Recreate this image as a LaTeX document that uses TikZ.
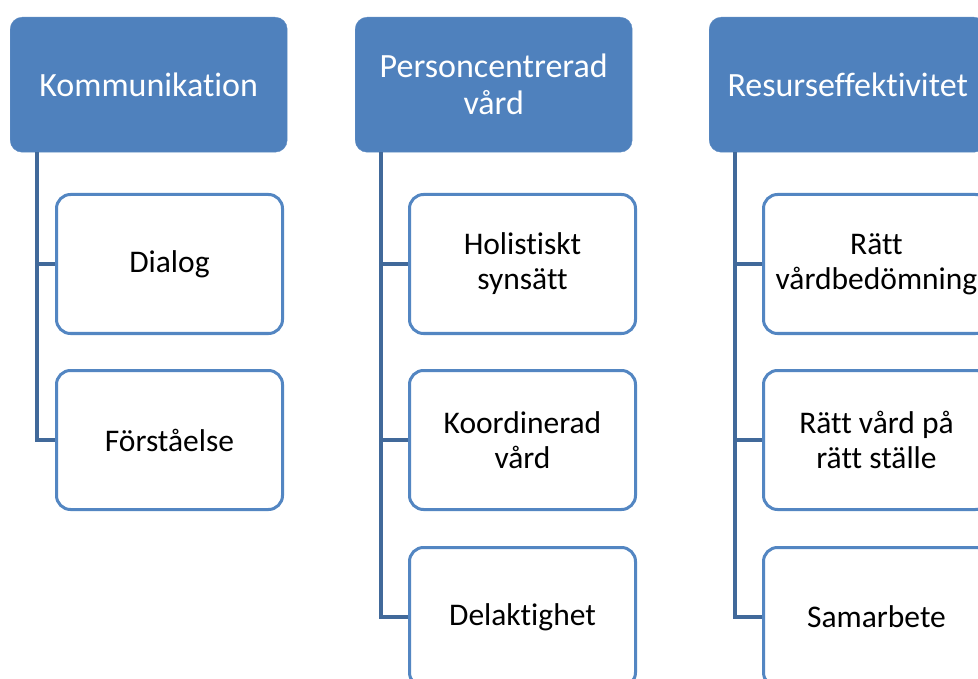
\documentclass[tikz,border=0pt]{standalone}
\usepackage{fontspec}
\setmainfont{Carlito}[Ligatures={NoCommon}]
\usepackage{tikz}
\usetikzlibrary{positioning, calc}
\definecolor{headblue}{HTML}{4F81BD}
\definecolor{boxblue}{HTML}{5386C2}
\definecolor{linkblue}{HTML}{41699A}
\tikzset{
  head/.style={fill=headblue, draw=headblue!90!white, rounded corners=12pt, minimum width=277pt, minimum height=135pt, anchor=north west, text=white, align=center, font=\fontsize{34}{37}\selectfont, inner sep=0pt},
  child/.style={fill=white, draw=boxblue, line width=3pt, rounded corners=14pt, minimum width=226pt, minimum height=139pt, anchor=north west, align=center, font=\fontsize{31.5}{35}\selectfont, inner sep=0pt},
  link/.style={draw=linkblue, line width=4pt}
}
\begin{document}
\begin{tikzpicture}[x=1pt, y=-1pt]
    \useasboundingbox (0,0) rectangle (978,679);
    \clip (0,0) rectangle (978,679);

    % Column 1
    \node[head] (h1) at (10,17) {Kommunikation};
    \coordinate (t1) at ([xshift=27pt]h1.south west);
    \node[child] (c11) at (55,193) {Dialog};
    \node[child] (c12) at (55,369) {Förståelse};
    \draw[link] (t1) |- (c11.west);
    \draw[link] (t1) |- (c12.west);

    % Column 2
    \node[head] (h2) at (355,17) {Personcentrerad\\vård};
    \coordinate (t2) at ([xshift=26pt]h2.south west);
    \node[child] (c21) at (408,193) {Holistiskt\\synsätt};
    \node[child] (c22) at (408,369) {Koordinerad\\vård};
    \node[child] (c23) at (408,546) {Delaktighet};
    \draw[link] (t2) |- (c21.west);
    \draw[link] (t2) |- (c22.west);
    \draw[link] (t2) |- (c23.west);

    % Column 3
    \node[head] (h3) at (709,17) {Resurseffektivitet};
    \coordinate (t3) at ([xshift=26pt]h3.south west);
    \node[child] (c31) at (762,193) {Rätt\\vårdbedömning};
    \node[child] (c32) at (762,369) {Rätt vård på\\rätt ställe};
    \node[child] (c33) at (762,546) {Samarbete};
    \draw[link] (t3) |- (c31.west);
    \draw[link] (t3) |- (c32.west);
    \draw[link] (t3) |- (c33.west);

\end{tikzpicture}
\end{document}
